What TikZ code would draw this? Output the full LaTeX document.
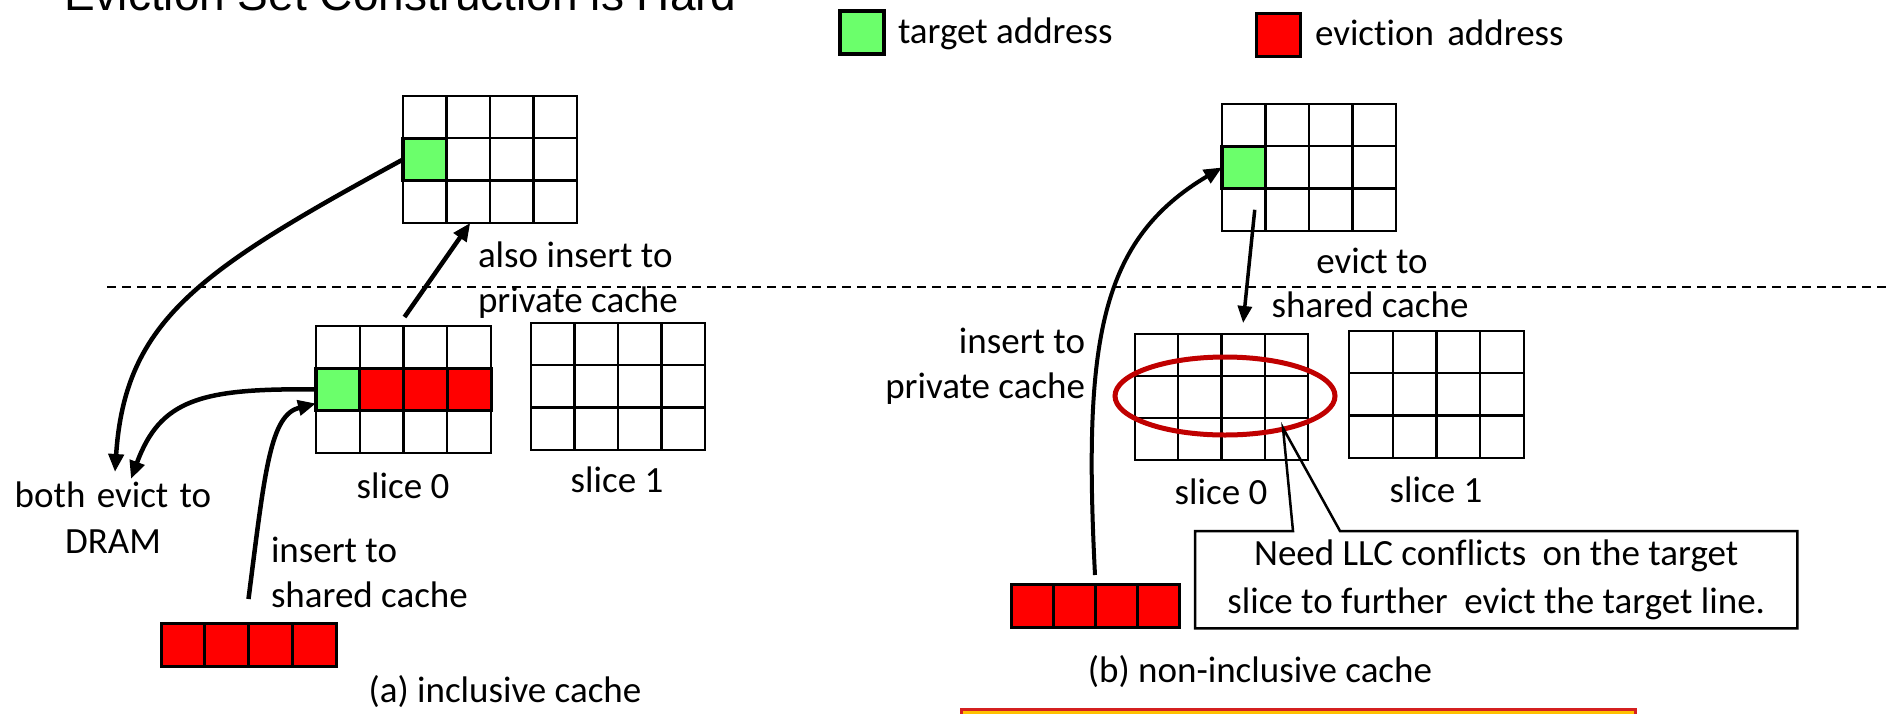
\documentclass[tikz,border=0pt]{standalone}
\usepackage{fontspec}
\setmainfont{Carlito}[Ligatures={NoCommon}]
\newfontfamily\titlefont{Liberation Sans}
\usetikzlibrary{arrows.meta,shapes.geometric,calc}
\definecolor{tgreen}{HTML}{6BFF6B}
\definecolor{ered}{HTML}{FF0000}
\definecolor{ellred}{HTML}{C00000}
\definecolor{bannerfill}{HTML}{FFC000}
\definecolor{bannerline}{HTML}{D42020}
\newcommand{\cachegrid}[5]{%
  \foreach \r in {0,1,2}{\foreach \c in {0,1,2,3}{%
    \node[cell, minimum width=#4pt, minimum height=#5pt] (#1-\r\c) at ({#2+\c*#4},{#3+\r*#5}) {};}}}
\begin{document}
\begin{tikzpicture}[x=1pt,y=-1pt,
  cell/.style={draw=black, line width=2.3pt, inner sep=0pt, outer sep=0pt, anchor=north west},
  tcell/.style={cell, fill=tgreen, line width=3.5pt},
  ecell/.style={cell, fill=ered, line width=3pt},
  lbl/.style={font=\fontsize{37}{45}\selectfont, inner sep=0pt, outer sep=0pt},
  conn/.style={line width=4.5pt, -{Triangle[length=18pt,width=15pt]}},
  thinconn/.style={line width=3.5pt, -{Triangle[length=17pt,width=14pt]}},
  sep/.style={line width=2.5pt, dash pattern=on 9pt off 6pt},
]
\useasboundingbox (0,0) rectangle (1890,713);

% title
\node[font=\titlefont\fontsize{46}{50}\selectfont, anchor=base west, inner sep=0pt] (title) at (64,10) {Eviction Set Construction is Hard};

% legend
\node[tcell, minimum width=44pt, minimum height=43pt] (legt) at (840,11) {};
\node[lbl, anchor=base west] (legtt) at (898,43) {target address};
\node[ecell, minimum width=44pt, minimum height=43pt] (lege) at (1256,13) {};
\node[lbl, anchor=base west] (legte) at (1315,45) {eviction\hspace{5pt} address};

% separator
\coordinate (dl) at (107,287);
\coordinate (dr) at (1892,287);
\draw[sep] (dl) -- (dr);

% ---------- (a) inclusive ----------
\cachegrid{pa}{403}{96}{43.5}{42.3}
\node[tcell, minimum width=43.5pt, minimum height=42.3pt] (pag) at (403,138.3) {};
\cachegrid{sa0}{316}{326}{43.75}{42.3}
\cachegrid{sa1}{531}{323}{43.5}{42.3}
\node[tcell, minimum width=43.75pt, minimum height=42.3pt] (sag) at (316,368.3) {};
\foreach \c in {1,2,3}{\node[ecell, minimum width=43.75pt, minimum height=42.3pt] (sar\c) at ({316+\c*43.75},368.3) {};}
\foreach \c in {0,1,2,3}{\node[ecell, minimum width=43.75pt, minimum height=43pt] (ra-\c) at ({161+\c*43.75},623) {};}

\node[lbl, anchor=base west] (also1) at (478,267) {also insert to};
\node[lbl, anchor=base west] (also2) at (478,312) {private cache};
\node[lbl, anchor=base] (sl0a) at (403,498) {slice 0};
\node[lbl, anchor=base] (sl1a) at (617,492) {slice 1};
\node[lbl, anchor=base] (both1) at (113,507) {both\hspace{3pt} evict\hspace{3pt} to};
\node[lbl, anchor=base] (both2) at (113,553) {DRAM};
\node[lbl, anchor=base west] (ins1) at (271,562) {insert to};
\node[lbl, anchor=base west] (ins2) at (271,607) {shared cache};
\node[lbl, anchor=base] (capa) at (505,702) {(a) inclusive cache};

\coordinate (dramL) at (115,472);
\coordinate (dramR) at (131,479);
\draw[conn] (pag.west) .. controls (200,270) and (125,320) .. (dramL);
\draw[conn] (sag.west) .. controls (200,388) and (160,400) .. (dramR);
\draw[conn] ([yshift=24pt]ra-1.north east) .. controls (265,470) and (270,415) .. ([yshift=-14pt]sag.west);
\draw[conn] ([yshift=9pt,xshift=1pt]sa0-02.north west) -- ([xshift=2pt]pa-21.south);

% ---------- (b) non-inclusive ----------
\cachegrid{pb}{1222}{104}{43.5}{42.3}
\node[tcell, minimum width=43.5pt, minimum height=42.3pt] (pbg) at (1222,146.3) {};
\cachegrid{sb0}{1135}{334}{43.25}{42.1}
\cachegrid{sb1}{1349}{331}{43.75}{42.3}
\foreach \c in {0,1,2,3}{\node[ecell, minimum width=42pt, minimum height=43pt] (rb-\c) at ({1011+\c*42},584) {};}

\node[draw=ellred, line width=5pt, ellipse, inner sep=0pt, minimum width=220pt, minimum height=78pt] (conf) at (1225,396) {};

\node[lbl, anchor=base] (ev1) at (1372,273) {evict to};
\node[lbl, anchor=base] (ev2) at (1370,317) {shared cache};
\node[lbl, anchor=base east] (insb1) at (1085,353) {insert to};
\node[lbl, anchor=base east] (insb2) at (1085,398) {private cache};
\node[lbl, anchor=base] (sl0b) at (1221,504) {slice 0};
\node[lbl, anchor=base] (sl1b) at (1436,502) {slice 1};
\node[lbl, anchor=base] (capb) at (1260,682) {(b) non-inclusive cache};

\draw[conn, line width=4pt] ([yshift=9pt]rb-1.north east) .. controls (1083,340) and (1100,240) .. (pbg.west);
\draw[thinconn] ([xshift=11pt]pb-20.center) -- ([yshift=11pt]sb0-02.north);

% callout
\node[font=\fontsize{37}{48}\selectfont, align=center, inner sep=0pt, minimum width=602pt, minimum height=97pt, anchor=north west] (callout) at (1195,531) {Need LLC conflicts\hspace{8pt} on the target\\slice to further\hspace{8pt} evict the target line.};
\coordinate (tip) at (1283,428);
\draw[line width=2.5pt, line join=miter] ([xshift=98pt]callout.north west) -- (tip) -- ([xshift=145pt]callout.north west) -- (callout.north east) -- (callout.south east) -- (callout.south west) -- (callout.north west) -- cycle;

% bottom banner (cut off)
\node[draw=bannerline, fill=bannerfill, line width=2.5pt, inner sep=0pt, minimum width=674pt, minimum height=30pt, anchor=north west] (banner) at (960,708) {};
\end{tikzpicture}
\end{document}
